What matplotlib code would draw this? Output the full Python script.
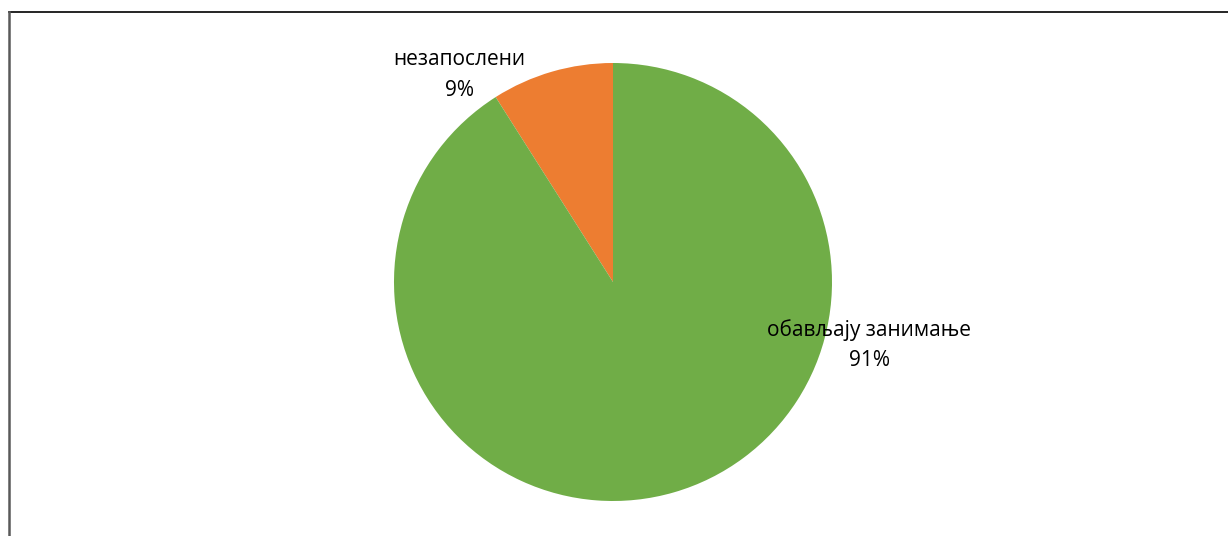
import matplotlib.pyplot as plt
from matplotlib.lines import Line2D

plt.rcParams['font.family'] = ['Open Sans', 'DejaVu Sans']

kategorije = ["незапослени", "обављају занимање"]
procenti = [9, 91]
boje = ["#ED7D31", "#70AD47"]

W, H = 1228, 536
fig = plt.figure(figsize=(W / 100, H / 100), dpi=100)

cx, cy, r = 613, 282, 219
ax = fig.add_axes([(cx - r) / W, (H - cy - r) / H, 2 * r / W, 2 * r / H])
ax.pie(procenti, colors=boje, startangle=90, counterclock=True, radius=1,
       wedgeprops=dict(linewidth=0))
ax.set_xlim(-1, 1)
ax.set_ylim(-1, 1)
ax.set_aspect("equal")
ax.axis("off")

# etikete
pozicije = [(-0.70, 0.945), (1.169, -0.288)]
for (x, y), naziv, p in zip(pozicije, kategorije, procenti):
    ax.text(x, y, f"{naziv}\n{p}%", ha="center", va="center", fontsize=15,
            color="#000000", linespacing=1.6, clip_on=False)

# okvir
fig.add_artist(Line2D([8.5 / W, 1], [1 - 12 / H, 1 - 12 / H], color="black",
                      linewidth=1.2, transform=fig.transFigure))
fig.add_artist(Line2D([8.5 / W, 8.5 / W], [0, 1 - 12 / H], color="#595959",
                      linewidth=1.8, transform=fig.transFigure))

fig.savefig("out.png", dpi=100)
